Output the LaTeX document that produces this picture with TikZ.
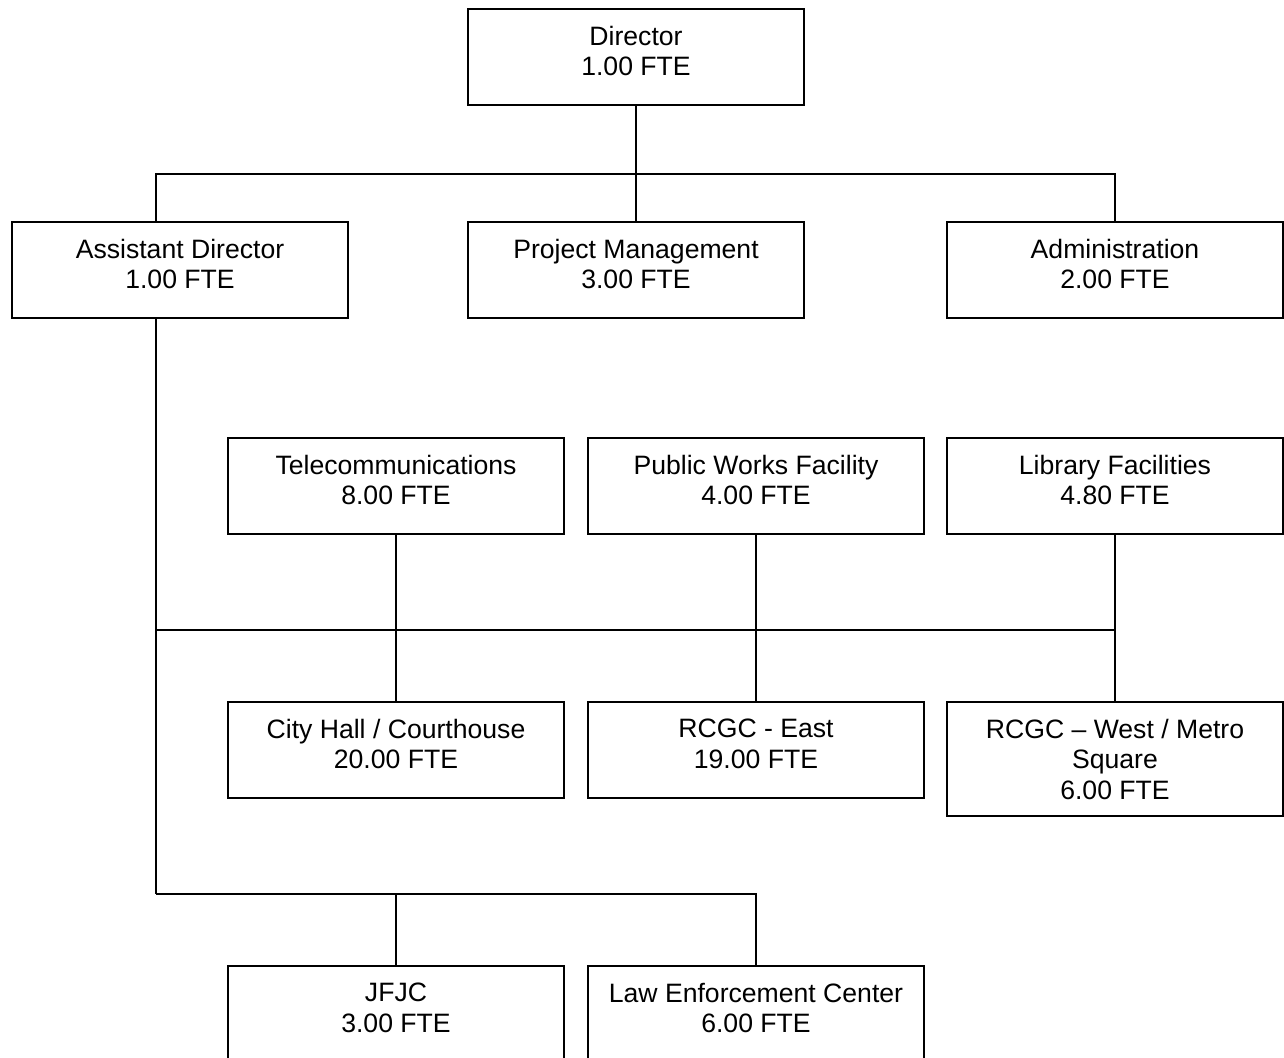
\documentclass[tikz,border=0pt]{standalone}
\usepackage{fontspec}
\setmainfont{Liberation Sans}
\begin{document}
\begin{tikzpicture}[x=1pt,y=-1pt,
  box/.style={draw=black,line width=1.8pt,minimum width=336pt,minimum height=96pt,inner sep=0pt,outer sep=0pt,anchor=north west},
  tallbox/.style={box,minimum height=114pt},
  lbl/.style={anchor=north,inner sep=0pt,align=center,font=\fontsize{26.6}{30.5}\selectfont,text=black},
  link/.style={draw=black,line width=1.8pt}]
\useasboundingbox (0,0) rectangle (1284,1057);
\clip (0,0) rectangle (1284,1057);

% top level
\node[box] (dir) at (468,9) {};
\node[lbl] (dir-t) at ([yshift=-17pt]dir.north) {Director\\1.00 FTE};

% second level
\node[box] (asst) at (12,222) {};
\node[lbl] (asst-t) at ([yshift=-17pt]asst.north) {Assistant Director\\1.00 FTE};
\node[box] (pm) at (468,222) {};
\node[lbl] (pm-t) at ([yshift=-17pt]pm.north) {Project Management\\3.00 FTE};
\node[box] (adm) at (947,222) {};
\node[lbl] (adm-t) at ([yshift=-17pt]adm.north) {Administration\\2.00 FTE};

% facility groups
\node[box] (tel) at (228,438) {};
\node[lbl] (tel-t) at ([yshift=-17pt]tel.north) {Telecommunications\\8.00 FTE};
\node[box] (pwf) at (588,438) {};
\node[lbl] (pwf-t) at ([yshift=-17pt]pwf.north) {Public Works Facility\\4.00 FTE};
\node[box] (lib) at (947,438) {};
\node[lbl] (lib-t) at ([yshift=-17pt]lib.north) {Library Facilities\\4.80 FTE};

\node[box] (chc) at (228,702) {};
\node[lbl] (chc-t) at ([yshift=-17pt]chc.north) {City Hall / Courthouse\\20.00 FTE};
\node[box] (rce) at (588,702) {};
\node[lbl] (rce-t) at ([yshift=-17pt]rce.north) {RCGC - East\\19.00 FTE};
\node[tallbox] (rcw) at (947,702) {};
\node[lbl] (rcw-t) at ([yshift=-17pt]rcw.north) {RCGC – West / Metro\\Square\\6.00 FTE};

\node[box] (jfjc) at (228,966) {};
\node[lbl] (jfjc-t) at ([yshift=-17pt]jfjc.north) {JFJC\\3.00 FTE};
\node[box] (lec) at (588,966) {};
\node[lbl] (lec-t) at ([yshift=-17pt]lec.north) {Law Enforcement Center\\6.00 FTE};

% taps on the assistant director box, left of its centre
\coordinate (asstIn) at ([xshift=-24pt]asst.north);
\coordinate (asstOut) at ([xshift=-24pt]asst.south);

% bus lines
\coordinate (busA) at (636,174);
\coordinate (busB) at (156,630);
\coordinate (busC) at (156,894);

% connectors
\draw[link] (dir.south) -- (busA);
\draw[link] (asstIn) |- (busA) -| (adm.north);
\draw[link] (busA) -- (pm.north);
\draw[link] (asstOut) -- (busC);
\draw[link] (busB) -| (lib.south);
\draw[link] (tel.south) -- (chc.north);
\draw[link] (pwf.south) -- (rce.north);
\draw[link] (lib.south) -- (rcw.north);
\draw[link] (busC) -| (lec.north);
\draw[link] (jfjc.north) -- (jfjc.north |- busC);
\end{tikzpicture}
\end{document}
